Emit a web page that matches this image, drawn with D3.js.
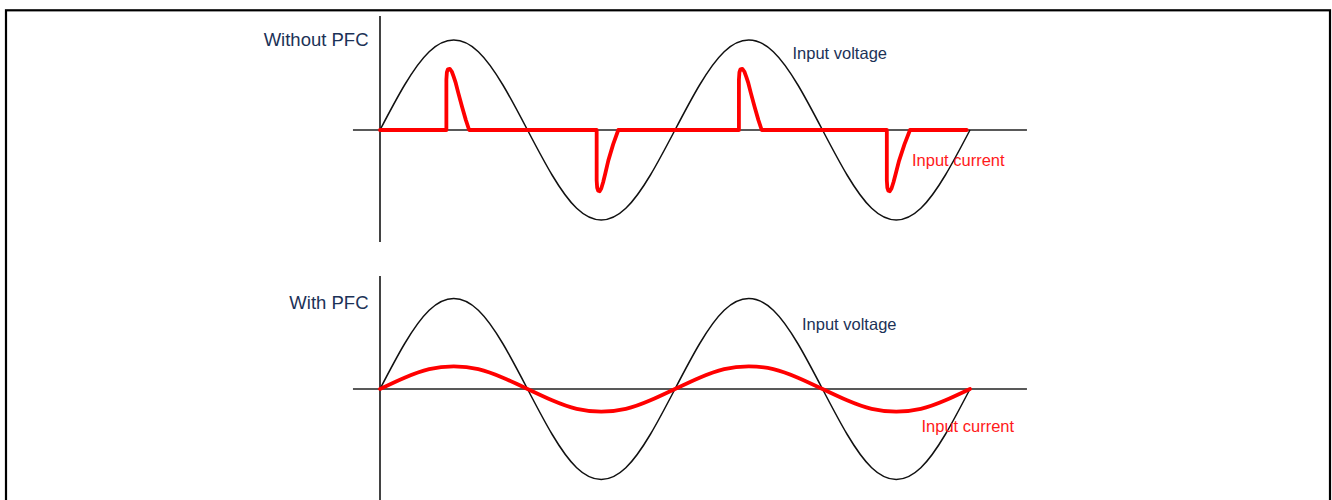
<!DOCTYPE html>
<html>
<head>
<meta charset="utf-8">
<script src="https://cdn.jsdelivr.net/npm/d3@7"></script>
<style>
  html, body { margin: 0; padding: 0; background: #fff; }
  svg { display: block; }
  text { font-family: "Liberation Sans", Arial, sans-serif; }
</style>
</head>
<body>
<svg id="chart" width="1332" height="500"></svg>
<script>
// Phase of the mains cycle in degrees (two full cycles)
const phaseDeg = [0, 30, 60, 90, 120, 150, 180, 210, 240, 270, 300, 330, 360,
                  390, 420, 450, 480, 510, 540, 570, 600, 630, 660, 690, 720];

// Normalised input voltage (peak = 1)
const inputVoltage = [0, 0.5, 0.87, 1, 0.87, 0.5, 0, -0.5, -0.87, -1, -0.87, -0.5, 0,
                      0.5, 0.87, 1, 0.87, 0.5, 0, -0.5, -0.87, -1, -0.87, -0.5, 0];

// Input current with PFC: in phase with the voltage, small amplitude
const pfcCurrent = [0, 0.125, 0.22, 0.25, 0.22, 0.125, 0, -0.125, -0.22, -0.25, -0.22, -0.125, 0,
                    0.125, 0.22, 0.25, 0.22, 0.125, 0, -0.125, -0.22, -0.25, -0.22, -0.125, 0];

// Input current without PFC: short charging pulses near the voltage peaks
const rawCurrentPhase = [0, 81, 81, 81.6, 82.8, 85.2, 87.6, 90, 92.5, 95.6, 100.2, 104.8, 108.8,
                         264.4, 264.4, 265, 266.2, 268, 270, 272.3, 275, 278.6, 284.5, 290.8,
                         438, 438, 438.6, 439.8, 442.2, 444.6, 447, 449.5, 452.6, 457.2, 461.8, 465.8,
                         618.5, 618.5, 619.1, 620.3, 622.1, 624.2, 626.6, 629.5, 633.5, 640, 646.8,
                         716];
const rawCurrent = [0, 0, 0.56, 0.64, 0.675, 0.68, 0.65, 0.59, 0.52, 0.41, 0.255, 0.11, 0,
                    0, -0.56, -0.64, -0.675, -0.68, -0.65, -0.58, -0.48, -0.34, -0.16, 0,
                    0, 0.56, 0.64, 0.675, 0.68, 0.65, 0.59, 0.52, 0.41, 0.255, 0.11, 0,
                    0, -0.56, -0.64, -0.675, -0.68, -0.65, -0.58, -0.48, -0.34, -0.16, 0,
                    0];

const panelTitles = ["Without PFC", "With PFC"];
const voltageLabel = "Input voltage";
const currentLabel = "Input current";

const svg = d3.select("#chart");

// Frame
svg.append("rect")
  .attr("x", 6).attr("y", 10.3)
  .attr("width", 1324).attr("height", 520)
  .attr("fill", "none").attr("stroke", "#000").attr("stroke-width", 2.2);

const x = d3.scaleLinear().domain([0, 720]).range([380, 970]);

const panels = [
  { title: panelTitles[0], zero: 130, amp: 90, vTop: 16, vBottom: 242,
    titleY: 46, vLabel: [792.5, 58.5], cLabel: [912, 165.5],
    current: rawCurrentPhase.map((p, i) => [p, rawCurrent[i]]), curve: d3.curveLinear },
  { title: panelTitles[1], zero: 389, amp: 90.5, vTop: 276, vBottom: 520,
    titleY: 309, vLabel: [802, 329.5], cLabel: [921.5, 432],
    current: phaseDeg.map((p, i) => [p, pfcCurrent[i]]), curve: d3.curveNatural }
];

panels.forEach(pn => {
  const y = d3.scaleLinear().domain([-1, 1]).range([pn.zero + pn.amp, pn.zero - pn.amp]);
  const g = svg.append("g");

  // Axes
  g.append("line")
    .attr("x1", x(0)).attr("x2", x(0))
    .attr("y1", pn.vTop).attr("y2", pn.vBottom)
    .attr("stroke", "#222").attr("stroke-width", 1.7);
  g.append("line")
    .attr("x1", x(-33)).attr("x2", x(789.5))
    .attr("y1", y(0)).attr("y2", y(0))
    .attr("stroke", "#222").attr("stroke-width", 1.7);

  // Voltage
  const voltLine = d3.line()
    .x(d => x(d[0])).y(d => y(d[1]))
    .curve(d3.curveNatural);
  g.append("path")
    .datum(phaseDeg.map((p, i) => [p, inputVoltage[i]]))
    .attr("d", voltLine)
    .attr("fill", "none").attr("stroke", "#111").attr("stroke-width", 1.5);

  // Current
  const curLine = d3.line()
    .x(d => x(d[0])).y(d => y(d[1]))
    .curve(pn.curve);
  g.append("path")
    .datum(pn.current)
    .attr("d", curLine)
    .attr("fill", "none").attr("stroke", "#ff0000").attr("stroke-width", 3.8)
    .attr("stroke-linejoin", "round").attr("stroke-linecap", "round");

  // Labels
  g.append("text")
    .attr("x", 368.5).attr("y", pn.titleY)
    .attr("text-anchor", "end")
    .attr("font-size", "18.5px").attr("fill", "#1c3257")
    .text(pn.title);
  g.append("text")
    .attr("x", pn.vLabel[0]).attr("y", pn.vLabel[1])
    .attr("font-size", "16.5px").attr("fill", "#1c3257")
    .text(voltageLabel);
  g.append("text")
    .attr("x", pn.cLabel[0]).attr("y", pn.cLabel[1])
    .attr("font-size", "16.5px").attr("fill", "#ff1a1a")
    .text(currentLabel);
});
</script>
</body>
</html>
